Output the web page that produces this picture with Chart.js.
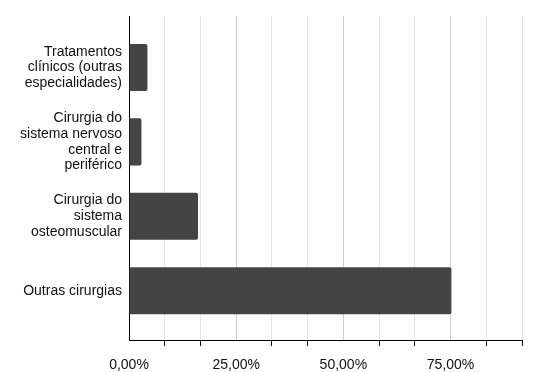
<!DOCTYPE html>
<html>
<head>
<meta charset="utf-8">
<script src="https://cdn.jsdelivr.net/npm/chart.js@4"></script>
<style>
  html, body { margin: 0; padding: 0; background: #fff; }
  #wrap { width: 546px; height: 372px; }
</style>
</head>
<body>
<div id="wrap"><canvas id="procChart" width="546" height="372"></canvas></div>
<script>
const categories = [
  ['Tratamentos', 'clínicos (outras', 'especialidades)'],
  ['Cirurgia do', 'sistema nervoso', 'central e', 'periférico'],
  ['Cirurgia do', 'sistema', 'osteomuscular'],
  'Outras cirurgias'
];
const shares = [4.3, 2.9, 16.1, 75.2];
const gridSteps = 12;          // one grid line every 100/12 %
const gridMax = 11;            // last grid line drawn
const labelEvery = 3;          // label on 0, 25, 50, 75

const isLabelled = v => Math.round(v * gridSteps / 100) % labelEvery === 0;

const ctx = document.getElementById('procChart').getContext('2d');
const chart = new Chart(ctx, {
  type: 'bar',
  data: {
    datasets: [{
      data: shares.map((v, i) => ({ x: v, y: i })),
      backgroundColor: '#444444',
      borderRadius: 2,
      borderSkipped: 'start',
      barPercentage: 0.632,
      categoryPercentage: 1
    }]
  },
  options: {
    indexAxis: 'y',
    responsive: false,
    animation: false,
    layout: { padding: { top: 16, right: 24, left: 0, bottom: 0 } },
    plugins: { legend: { display: false }, tooltip: { enabled: false } },
    scales: {
      x: {
        type: 'linear',
        min: 0,
        max: 100 * gridMax / gridSteps,
        afterBuildTicks: s => {
          s.ticks = [];
          for (let i = 0; i <= gridMax; i++) s.ticks.push({ value: i * 100 / gridSteps });
        },
        afterFit: s => { s.height = 32; },
        border: { display: true, color: '#000', width: 1 },
        grid: {
          color: c => (c.index === 0 ? 'rgba(0,0,0,0)' : (isLabelled(c.tick.value) ? '#d0d0d0' : '#e6e6e6')),
          tickColor: c => (isLabelled(c.tick.value) ? 'rgba(0,0,0,0)' : '#111'),
          tickLength: 6,
          lineWidth: 1
        },
        ticks: {
          autoSkip: false,
          maxRotation: 0,
          padding: 11,
          color: '#111',
          font: { family: '"Liberation Sans", Arial, sans-serif', size: 14 },
          callback: v => (isLabelled(v) ? v.toFixed(2).replace('.', ',') + '%' : '')
        }
      },
      y: {
        type: 'linear',
        reverse: true,
        offset: false,
        min: -0.692,
        max: 3.663,
        afterBuildTicks: s => { s.ticks = categories.map((c, i) => ({ value: i })); },
        afterFit: s => { s.width = 129; },
        border: { display: true, color: '#000', width: 1 },
        grid: { display: false, drawTicks: false, offset: false },
        ticks: {
          autoSkip: false,
          padding: 7,
          color: '#111',
          font: { family: '"Liberation Sans", Arial, sans-serif', size: 14, lineHeight: 1.12 },
          callback: v => categories[Math.round(v)]
        }
      }
    }
  }
});
</script>
</body>
</html>
